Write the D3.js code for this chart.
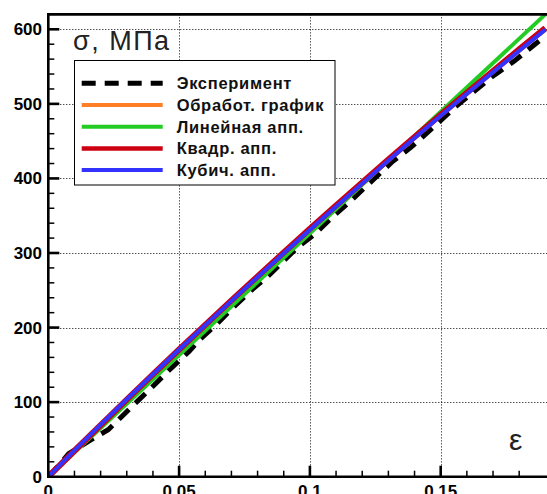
<!DOCTYPE html>
<html>
<head>
<meta charset="utf-8">
<script src="https://cdn.jsdelivr.net/npm/d3@7"></script>
<style>
  html, body { margin: 0; padding: 0; background: #fff; }
  svg { display: block; }
  .tick-label { font-family: "Liberation Sans", Arial, sans-serif; font-weight: bold; font-size: 17px; fill: #000; }
  .legend-text { font-family: "Liberation Sans", Arial, sans-serif; font-weight: bold; font-size: 16.5px; letter-spacing: 0.7px; fill: #111; }
</style>
</head>
<body>
<svg id="chart" width="547" height="494"></svg>
<script>
// strain values (eps) shared by the fitted curves
const epsGrid = [0, 0.01, 0.02, 0.03, 0.04, 0.05, 0.06, 0.07, 0.08, 0.09, 0.1,
  0.11, 0.12, 0.13, 0.14, 0.15, 0.16, 0.17, 0.18, 0.19];

const processedSigma = [0, 35, 69.5, 103.6, 137.3, 170.6, 203.6, 236.2, 268.4, 300.3, 331.9,
  363.2, 394.2, 424.8, 455.1, 485, 514.6, 543.8, 572.7, 601];
const quadSigma = [0, 34.8, 69.3, 103.4, 137.2, 170.6, 203.7, 236.4, 268.7, 300.7, 332.4,
  363.7, 394.7, 425.3, 455.5, 485.4, 514.9, 544.1, 573, 601.5];
const cubicSigma = [0, 35.2, 69.8, 103.8, 137.3, 170.5, 203.3, 235.8, 267.9, 299.7, 331.2,
  362.4, 393.3, 423.9, 454.1, 484, 513.5, 542.6, 571.3, 599.5];

// linear approximation: only the two end points
const linearEps = [0, 0.19];
const linearSigma = [0, 620];

const expEps = [0, 0.004, 0.0078, 0.0161, 0.0229, 0.0279, 0.034, 0.0405, 0.0468, 0.0538,
  0.0582, 0.0645, 0.071, 0.0776, 0.0843, 0.0951, 0.1021, 0.1085, 0.115, 0.1317, 0.1387,
  0.1473, 0.1556, 0.1626, 0.1695, 0.178, 0.1864, 0.189];
const expSigma = [0, 15, 31, 49, 63, 80, 101, 123, 145, 168,
  185, 205, 228, 250, 270, 307, 326, 348, 368, 423, 442,
  469, 496, 516, 536, 557, 581, 588];

const xMajor = [0, 0.05, 0.1, 0.15];
const xMajorLabels = ['0', '0.05', '0.1', '0.15'];
const yMajor = [0, 100, 200, 300, 400, 500, 600];

const legendItems = [
  { name: 'Эксперимент', color: '#000', dash: '14,9', width: 5 },
  { name: 'Обработ. график', color: '#ff7f27', dash: null, width: 4 },
  { name: 'Линейная апп.', color: '#22cc22', dash: null, width: 4 },
  { name: 'Квадр. апп.', color: '#cc0010', dash: null, width: 4.5 },
  { name: 'Кубич. апп.', color: '#3333ff', dash: null, width: 4 },
];

const W = 547;
const svg = d3.select('#chart');

const x = d3.scaleLinear().domain([0, 0.15]).range([48.3, 440.7]);
const y = d3.scaleLinear().domain([0, 600]).range([476.7, 29.3]);
const yTop = y(620);

// clip for the curves
svg.append('defs').append('clipPath').attr('id', 'plot-clip')
  .append('rect')
  .attr('x', x(0)).attr('y', yTop)
  .attr('width', W - x(0)).attr('height', y(0) - yTop);

// dotted grid
const grid = svg.append('g')
  .attr('stroke', '#000').attr('stroke-width', 1).attr('stroke-dasharray', '1,2');
grid.selectAll('line.gx').data(xMajor.slice(1)).join('line')
  .attr('x1', (d) => Math.round(x(d)) + 0.5).attr('x2', (d) => Math.round(x(d)) + 0.5)
  .attr('y1', yTop).attr('y2', y(0));
grid.selectAll('line.gy').data(yMajor.slice(1)).join('line')
  .attr('y1', (d) => Math.round(y(d)) + 0.5).attr('y2', (d) => Math.round(y(d)) + 0.5)
  .attr('x1', x(0)).attr('x2', W);

// curves
const line = d3.line().x((d) => x(d[0])).y((d) => y(d[1]));
const zip = (a, b) => a.map((v, i) => [v, b[i]]);

const curves = svg.append('g').attr('clip-path', 'url(#plot-clip)').attr('fill', 'none');
const series = [
  { pts: zip(expEps, expSigma), item: legendItems[0] },
  { pts: zip(epsGrid, processedSigma), item: legendItems[1] },
  { pts: zip(linearEps, linearSigma), item: legendItems[2] },
  { pts: zip(epsGrid, quadSigma), item: { ...legendItems[3], width: 6 } },
  { pts: zip(epsGrid, cubicSigma), item: legendItems[4] },
];
curves.selectAll('path').data(series).join('path')
  .attr('d', (d) => line(d.pts))
  .attr('stroke', (d) => d.item.color)
  .attr('stroke-width', (d) => d.item.width)
  .attr('stroke-dasharray', (d) => d.item.dash);

// axes frame
const frame = svg.append('g').attr('stroke', '#000');
frame.append('line').attr('x1', x(0)).attr('x2', W).attr('y1', y(0)).attr('y2', y(0)).attr('stroke-width', 2.6);
frame.append('line').attr('x1', x(0)).attr('x2', W).attr('y1', yTop).attr('y2', yTop).attr('stroke-width', 2.6);
frame.append('line').attr('x1', x(0)).attr('x2', x(0)).attr('y1', yTop - 1.3).attr('y2', y(0) + 1.3).attr('stroke-width', 2.6);

// x ticks (inward)
const xMinor = d3.range(1, 19).map((i) => i / 100).filter((v) => Math.round(v * 100) % 5 !== 0);
frame.selectAll('line.xmin').data(xMinor).join('line')
  .attr('x1', (d) => x(d)).attr('x2', (d) => x(d))
  .attr('y1', y(0)).attr('y2', y(0) - 6).attr('stroke-width', 1.5);
frame.selectAll('line.xmaj').data(xMajor.slice(1)).join('line')
  .attr('x1', (d) => x(d)).attr('x2', (d) => x(d))
  .attr('y1', y(0)).attr('y2', y(0) - 11).attr('stroke-width', 2.6);

// y ticks (inward)
const yMinor = d3.range(20, 620, 20).filter((v) => v % 100 !== 0);
frame.selectAll('line.ymin').data(yMinor).join('line')
  .attr('x1', x(0)).attr('x2', x(0) + 6)
  .attr('y1', (d) => y(d)).attr('y2', (d) => y(d)).attr('stroke-width', 1.5);
frame.selectAll('line.ymaj').data(yMajor.slice(1)).join('line')
  .attr('x1', x(0)).attr('x2', x(0) + 11)
  .attr('y1', (d) => y(d)).attr('y2', (d) => y(d)).attr('stroke-width', 2.6);

// tick labels
svg.selectAll('text.ylab').data(yMajor).join('text')
  .attr('class', 'tick-label')
  .attr('x', 42).attr('y', (d) => y(d) + 6)
  .attr('text-anchor', 'end')
  .text((d) => d);
svg.selectAll('text.xlab').data(xMajor).join('text')
  .attr('class', 'tick-label')
  .attr('x', (d) => x(d)).attr('y', 497)
  .attr('text-anchor', 'middle')
  .text((d, i) => xMajorLabels[i]);

// axis titles
svg.append('text')
  .attr('x', 73).attr('y', 50)
  .attr('font-family', '"Liberation Sans", Arial, sans-serif')
  .attr('font-size', 27)
  .attr('letter-spacing', 1.5)
  .attr('fill', '#222')
  .text('σ, МПа');
svg.append('text')
  .attr('x', 509).attr('y', 450)
  .attr('font-family', '"Liberation Sans", Arial, sans-serif')
  .attr('font-size', 30)
  .attr('fill', '#222')
  .text('ε');

// legend
const legend = svg.append('g');
legend.append('rect')
  .attr('x', 74.5).attr('y', 60.5).attr('width', 260.5).attr('height', 124.5)
  .attr('fill', '#fff').attr('stroke', '#000').attr('stroke-width', 1);
const rowY = (i) => 83.3 + i * 21.7;
const rows = legend.selectAll('g.row').data(legendItems).join('g');
rows.append('line')
  .attr('x1', 81.7).attr('x2', 162.7)
  .attr('y1', (d, i) => rowY(i)).attr('y2', (d, i) => rowY(i))
  .attr('stroke', (d) => d.color)
  .attr('stroke-width', (d) => d.width)
  .attr('stroke-dasharray', (d) => d.dash);
rows.append('text')
  .attr('class', 'legend-text')
  .attr('x', 176.7).attr('y', (d, i) => rowY(i) + 6)
  .text((d) => d.name);
</script>
</body>
</html>
